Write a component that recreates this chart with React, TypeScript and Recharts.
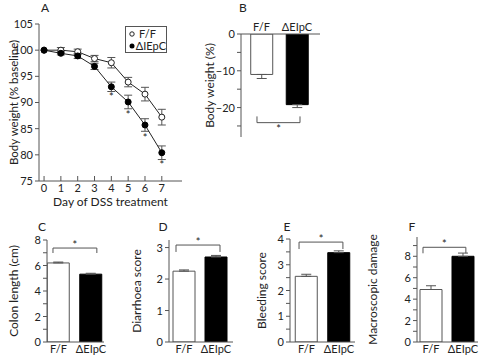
import React from 'react';
import { ComposedChart, Line, Bar, Cell, Scatter, XAxis, YAxis, ErrorBar, ReferenceLine } from 'recharts';

// Panel A: body weight over DSS course
const days = [0, 1, 2, 3, 4, 5, 6, 7];
const ffWeight = [100, 100.0, 99.7, 98.4, 97.6, 93.9, 91.6, 87.2];
const ffWeightErr = [0, 0.5, 0.5, 0.6, 1.0, 0.9, 1.3, 1.5];
const koWeight = [100, 99.4, 98.9, 96.9, 93.0, 90.1, 85.7, 80.4];
const koWeightErr = [0, 0.3, 0.5, 0.6, 0.9, 1.3, 1.2, 1.3];
const starDays = [4, 5, 6, 7];
const starLevels = [91.0, 87.7, 83.3, 78.1];

// Panels B-F: two groups
const groups = ['F/F', 'ΔEIpC'];
const weightChange = [-11.0, -19.2];
const weightChangeErr = [1.1, 0.8];
const colonLength = [6.2, 5.32];
const colonLengthErr = [0.07, 0.07];
const diarrhoea = [2.25, 2.7];
const diarrhoeaErr = [0.04, 0.05];
const bleeding = [2.55, 3.47];
const bleedingErr = [0.08, 0.07];
const damage = [4.9, 8.0];
const damageErr = [0.35, 0.3];

const FONT = "Lato, 'DejaVu Sans', sans-serif";
const AXIS = '#555';
const INK = '#222';

const weightData = days.map((d, i) => ({
  day: d,
  ff: ffWeight[i],
  ffErr: ffWeightErr[i],
  ko: koWeight[i],
  koErr: koWeightErr[i],
}));
const starData = starDays.map((d, i) => ({ day: d, star: starLevels[i] }));

const makeBars = (vals: number[], errs: number[]) =>
  vals.map((v, i) => ({
    x: i,
    value: v,
    // error drawn only away from the bar
    err: v < 0 ? [errs[i], 0] : [0, errs[i]],
  }));

const Star = (props: any) => (
  <text x={props.cx} y={props.cy + 4} textAnchor="middle" fontSize={11} fill={INK} fontFamily={FONT}>
    *
  </text>
);

const tickStyle = { fontSize: 11, fill: INK, fontFamily: FONT };

const PanelLetter = ({ x, y, children }: { x: number; y: number; children: React.ReactNode }) => (
  <div
    style={{
      position: 'absolute',
      left: x - 6,
      top: y - 8,
      width: 12,
      textAlign: 'center',
      fontSize: 12,
      lineHeight: '16px',
      fontFamily: FONT,
      color: INK,
    }}
  >
    {children}
  </div>
);

interface BarPanelProps {
  left: number;
  top: number;
  width: number;
  height: number;
  axisWidth: number;
  margin: { top: number; right: number; bottom: number };
  data: any[];
  xDomain: [number, number];
  yDomain: [number, number];
  yTicks: number[];
  labelEvery: number;
  title: string;
  titleX: number;
  bracket: [number, number, number, number]; // x0, x1, y, legY
  inverted?: boolean;
}

const fmt = (v: number) => (v < 0 ? `\u2212${-v}` : `${v}`);

// y tick label, only every labelEvery units gets text
const makeYTick = (every: number) => (props: any) => {
  const { x, y, payload } = props;
  const v = payload.value;
  if (Math.abs(v % every) > 1e-6) return <g />;
  return (
    <text x={x} y={y} dy={4} textAnchor="end" fontSize={11} fill={INK} fontFamily={FONT}>
      {fmt(v)}
    </text>
  );
};

const BarPanel = (p: BarPanelProps) => (
  <div style={{ position: 'absolute', left: p.left, top: p.top }}>
    <ComposedChart
      width={p.width}
      height={p.height}
      data={p.data}
      margin={{ top: p.margin.top, right: p.margin.right, bottom: p.margin.bottom, left: 0 }}
    >
      <XAxis
        dataKey="x"
        type="number"
        orientation={p.inverted ? 'top' : 'bottom'}
        domain={p.xDomain}
        ticks={[0, 1]}
        allowDataOverflow
        tickFormatter={(i: number) => groups[i]}
        tickLine={false}
        tickSize={0}
        tickMargin={3}
        height={p.inverted ? 20 : 14}
        stroke={AXIS}
        tick={tickStyle}
        interval={0}
      />
      <YAxis
        type="number"
        domain={p.yDomain}
        ticks={p.yTicks}
        allowDataOverflow
        width={p.axisWidth}
        tickSize={4}
        tickMargin={2}
        stroke={AXIS}
        tick={makeYTick(p.labelEvery)}
        interval={0}
        label={{
          value: p.title,
          angle: -90,
          position: 'insideLeft',
          offset: p.titleX,
          style: { textAnchor: 'middle', fontSize: 12, fill: INK, fontFamily: FONT },
        }}
      />
      <Bar dataKey="value" barSize={22} isAnimationActive={false}>
        {p.data.map((d, i) => (
          <Cell key={i} fill={i === 0 ? '#fff' : '#000'} stroke={i === 0 ? AXIS : '#000'} strokeWidth={1} />
        ))}
        <ErrorBar dataKey="err" width={5} stroke={AXIS} strokeWidth={1} />
      </Bar>
      <ReferenceLine
        segment={[
          { x: p.bracket[0], y: p.bracket[2] },
          { x: p.bracket[1], y: p.bracket[2] },
        ]}
        stroke={AXIS}
        label={{
          value: '*',
          position: p.inverted ? 'bottom' : 'top',
          offset: p.inverted ? 3 : -1,
          style: { fontSize: 11, fill: INK, fontFamily: FONT },
        }}
      />
      <ReferenceLine
        segment={[
          { x: p.bracket[0], y: p.bracket[2] },
          { x: p.bracket[0], y: p.bracket[3] },
        ]}
        stroke={AXIS}
      />
      <ReferenceLine
        segment={[
          { x: p.bracket[1], y: p.bracket[2] },
          { x: p.bracket[1], y: p.bracket[3] },
        ]}
        stroke={AXIS}
      />
    </ComposedChart>
  </div>
);

const LegendBox = () => (
  <div
    style={{
      position: 'absolute',
      left: 125,
      top: 26,
      width: 42,
      height: 27,
      border: `1px solid ${AXIS}`,
      boxSizing: 'border-box',
      fontFamily: FONT,
      fontSize: 11,
      color: INK,
      lineHeight: '12px',
      paddingTop: 1,
    }}
  >
    <div style={{ display: 'flex', alignItems: 'center', height: 12 }}>
      <svg width={11} height={10} style={{ marginLeft: 2 }}>
        <circle cx={4} cy={5} r={2.2} fill="#fff" stroke={INK} />
      </svg>
      <span>F/F</span>
    </div>
    <div style={{ display: 'flex', alignItems: 'center', height: 12 }}>
      <svg width={11} height={10} style={{ marginLeft: 2 }}>
        <circle cx={4} cy={5} r={2.5} fill="#000" />
      </svg>
      <span>ΔIEpC</span>
    </div>
  </div>
);

export default function App() {
  return (
    <div style={{ position: 'absolute', left: 0, top: 0, width: 483, height: 356, background: '#fff', overflow: 'hidden' }}>
      {/* A */}
      <div style={{ position: 'absolute', left: 0, top: 0 }}>
        <ComposedChart width={200} height={215} data={weightData} margin={{ top: 24, right: 18, bottom: 0, left: 0 }}>
          <XAxis
            dataKey="day"
            type="number"
            domain={[-0.3, 8.2]}
            ticks={days}
            allowDataOverflow
            tickSize={-5}
            tickMargin={8}
            height={34}
            stroke={AXIS}
            tick={tickStyle}
            interval={0}
            label={{
              value: 'Day of DSS treatment',
              position: 'insideBottom',
              offset: 9,
              style: { fontSize: 12, fill: INK, fontFamily: FONT },
            }}
          />
          <YAxis
            type="number"
            domain={[75, 105]}
            ticks={[75, 80, 85, 90, 95, 100, 105]}
            allowDataOverflow
            width={39}
            tickSize={4}
            tickMargin={2}
            stroke={AXIS}
            tick={tickStyle}
            interval={0}
            label={{
              value: 'Body weight (% baseline)',
              angle: -90,
              position: 'insideLeft',
              offset: 14,
              style: { textAnchor: 'middle', fontSize: 11.5, fill: INK, fontFamily: FONT },
            }}
          />
          <Line
            dataKey="ff"
            stroke={INK}
            strokeWidth={1}
            isAnimationActive={false}
            dot={{ r: 3, fill: '#fff', stroke: INK, strokeWidth: 1 }}
          >
            <ErrorBar dataKey="ffErr" width={4} stroke={AXIS} strokeWidth={1} />
          </Line>
          <Line
            dataKey="ko"
            stroke={INK}
            strokeWidth={1}
            isAnimationActive={false}
            dot={{ r: 3, fill: '#000', stroke: '#000', strokeWidth: 1 }}
          >
            <ErrorBar dataKey="koErr" width={4} stroke={AXIS} strokeWidth={1} />
          </Line>
          <Scatter data={starData} dataKey="star" shape={Star} isAnimationActive={false} />
        </ComposedChart>
      </div>
      <LegendBox />
      <PanelLetter x={45} y={8}>A</PanelLetter>

      {/* B */}
      <BarPanel
        left={200}
        top={0}
        width={130}
        height={145}
        axisWidth={41}
        margin={{ top: 14, right: 10, bottom: 8 }}
        data={makeBars(weightChange, weightChangeErr)}
        xDomain={[-0.577, 1.648]}
        yDomain={[-28, 0]}
        yTicks={[0, -5, -10, -15, -20, -25]}
        labelEvery={10}
        title="Body weight (%)"
        titleX={10}
        bracket={[-0.127, 1.085, -24.1, -22.4]}
        inverted
      />
      <PanelLetter x={243} y={8}>B</PanelLetter>

      {/* C */}
      <BarPanel
        left={0}
        top={225}
        width={115}
        height={131}
        axisWidth={47}
        margin={{ top: 15, right: 11, bottom: 0 }}
        data={makeBars(colonLength, colonLengthErr)}
        xDomain={[-0.354, 1.4]}
        yDomain={[0, 8]}
        yTicks={[0, 1, 2, 3, 4, 5, 6, 7, 8]}
        labelEvery={2}
        title="Colon length (cm)"
        titleX={14}
        bracket={[-0.17, 1.18, 7.37, 6.98]}
      />
      <PanelLetter x={42} y={227}>C</PanelLetter>

      {/* D */}
      <BarPanel
        left={120}
        top={225}
        width={118}
        height={131}
        axisWidth={49}
        margin={{ top: 15, right: 5, bottom: 0 }}
        data={makeBars(diarrhoea, diarrhoeaErr)}
        xDomain={[-0.469, 1.531]}
        yDomain={[0, 3.24]}
        yTicks={[0, 1, 2, 3]}
        labelEvery={1}
        title="Diarrhoea score"
        titleX={17}
        bracket={[-0.25, 1.125, 3.08, 2.86]}
      />
      <PanelLetter x={163} y={227}>D</PanelLetter>

      {/* E */}
      <BarPanel
        left={240}
        top={225}
        width={120}
        height={131}
        axisWidth={50}
        margin={{ top: 14, right: 5, bottom: 0 }}
        data={makeBars(bleeding, bleedingErr)}
        xDomain={[-0.508, 1.492]}
        yDomain={[0, 4]}
        yTicks={[0, 0.5, 1, 1.5, 2, 2.5, 3, 3.5, 4]}
        labelEvery={1}
        title="Bleeding score"
        titleX={22}
        bracket={[-0.23, 1.12, 3.88, 3.61]}
      />
      <PanelLetter x={287} y={227}>E</PanelLetter>

      {/* F */}
      <BarPanel
        left={360}
        top={225}
        width={123}
        height={131}
        axisWidth={57}
        margin={{ top: 12, right: 5, bottom: 0 }}
        data={makeBars(damage, damageErr)}
        xDomain={[-0.4375, 1.469]}
        yDomain={[0, 9.8]}
        yTicks={[0, 1, 2, 3, 4, 5, 6, 7, 8, 9]}
        labelEvery={2}
        title="Macroscopic damage"
        titleX={13}
        bracket={[-0.25, 1.09, 8.84, 8.28]}
      />
      <PanelLetter x={412} y={227}>F</PanelLetter>
    </div>
  );
}
